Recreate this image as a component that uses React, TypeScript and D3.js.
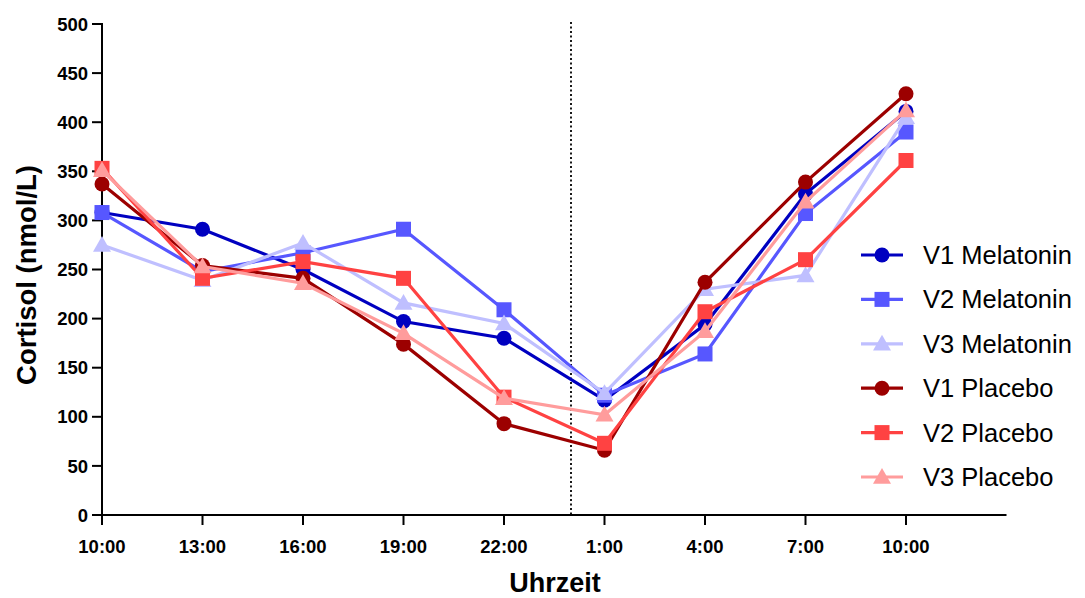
import React from "react";
import * as d3 from "d3";

const timeLabels = ["10:00", "13:00", "16:00", "19:00", "22:00", "1:00", "4:00", "7:00", "10:00"];
const hoursSinceStart = [0, 3, 6, 9, 12, 15, 18, 21, 24];
const midnightHour = 14;
const yTicks = [0, 50, 100, 150, 200, 250, 300, 350, 400, 450, 500];

const v1Melatonin = [308, 291, 250, 197, 180, 117, 194, 327, 411];
const v2Melatonin = [308, 248, 267, 291, 209, 122, 164, 307, 390];
const v3Melatonin = [275, 239, 277, 216, 195, 124, 230, 244, 405];
const v1Placebo = [337, 254, 241, 174, 93, 66, 237, 339, 429];
const v2Placebo = [353, 241, 258, 241, 120, 73, 207, 260, 361];
const v3Placebo = [351, 253, 236, 185, 119, 102, 187, 319, 412];

const seriesNames = ["V1 Melatonin", "V2 Melatonin", "V3 Melatonin", "V1 Placebo", "V2 Placebo", "V3 Placebo"];
const seriesValues = [v1Melatonin, v2Melatonin, v3Melatonin, v1Placebo, v2Placebo, v3Placebo];
const seriesColors = ["#0000C0", "#5757FF", "#BFBFFF", "#9C0000", "#FF4242", "#FF9C9C"];
const seriesShapes = ["circle", "square", "triangle", "circle", "square", "triangle"];

const W = 1085;
const H = 598;
const left = 102;
const right = 1006.5;
const top = 24;
const bottom = 515;

const FONT = "'Liberation Sans', Arial, sans-serif";

function Marker({ shape, x, y, color }: { shape: string; x: number; y: number; color: string }) {
  if (shape === "circle") return <circle cx={x} cy={y} r={7.5} fill={color} />;
  if (shape === "square") return <rect x={x - 7.5} y={y - 7.5} width={15} height={15} fill={color} />;
  const s = 9;
  return (
    <path
      d={`M${x},${y - s}L${x + s},${y + s * 0.75}L${x - s},${y + s * 0.75}Z`}
      fill={color}
    />
  );
}

export default function App() {
  const x = d3.scaleLinear().domain([0, 27]).range([left, right]);
  const y = d3.scaleLinear().domain([0, 500]).range([bottom, top]);
  const line = d3
    .line<number>()
    .x((_, i) => x(hoursSinceStart[i]))
    .y((d) => y(d));

  const legendX1 = 861;
  const legendX2 = 903;
  const legendTextX = 923;
  const legendY0 = 255;
  const legendStep = 44.4;

  return (
    <svg
      width={W}
      height={H}
      style={{ position: "absolute", left: 0, top: 0, background: "#fff" }}
      fontFamily={FONT}
    >
      {/* dotted midnight line */}
      <line
        x1={x(midnightHour)}
        x2={x(midnightHour)}
        y1={22}
        y2={bottom}
        stroke="#000"
        strokeWidth={1.8}
        strokeDasharray="2,2.5"
      />
      {/* axes */}
      <line x1={left} x2={left} y1={top - 1} y2={bottom + 1} stroke="#000" strokeWidth={2} />
      <line x1={left - 1} x2={right} y1={bottom} y2={bottom} stroke="#000" strokeWidth={2} />
      {yTicks.map((t) => (
        <g key={t}>
          <line x1={left - 10} x2={left} y1={y(t)} y2={y(t)} stroke="#000" strokeWidth={2} />
          <text
            x={left - 14}
            y={y(t)}
            dy="0.36em"
            textAnchor="end"
            fontSize={18.5}
            fontWeight="bold"
          >
            {t}
          </text>
        </g>
      ))}
      {hoursSinceStart.map((h, i) => (
        <g key={i}>
          <line x1={x(h)} x2={x(h)} y1={bottom} y2={bottom + 10} stroke="#000" strokeWidth={2} />
          <text
            x={x(h)}
            y={bottom + 38}
            textAnchor="middle"
            fontSize={18.5}
            fontWeight="bold"
          >
            {timeLabels[i]}
          </text>
        </g>
      ))}
      <text
        transform={`translate(36,275) rotate(-90)`}
        textAnchor="middle"
        fontSize={27.5}
        fontWeight="bold"
      >
        Cortisol (nmol/L)
      </text>
      <text x={555} y={592} textAnchor="middle" fontSize={27} fontWeight="bold">
        Uhrzeit
      </text>

      {/* series */}
      {seriesValues.map((vals, si) => (
        <g key={si}>
          <path d={line(vals) || ""} fill="none" stroke={seriesColors[si]} strokeWidth={3.2} />
          {vals.map((v, i) => (
            <Marker
              key={i}
              shape={seriesShapes[si]}
              x={x(hoursSinceStart[i])}
              y={y(v)}
              color={seriesColors[si]}
            />
          ))}
        </g>
      ))}

      {/* legend */}
      {seriesNames.map((name, si) => {
        const ly = legendY0 + si * legendStep;
        return (
          <g key={name}>
            <line x1={legendX1} x2={legendX2} y1={ly} y2={ly} stroke={seriesColors[si]} strokeWidth={3.2} />
            <Marker shape={seriesShapes[si]} x={(legendX1 + legendX2) / 2} y={ly} color={seriesColors[si]} />
            <text x={legendTextX} y={ly + 9} fontSize={25.5}>
              {name}
            </text>
          </g>
        );
      })}
    </svg>
  );
}
